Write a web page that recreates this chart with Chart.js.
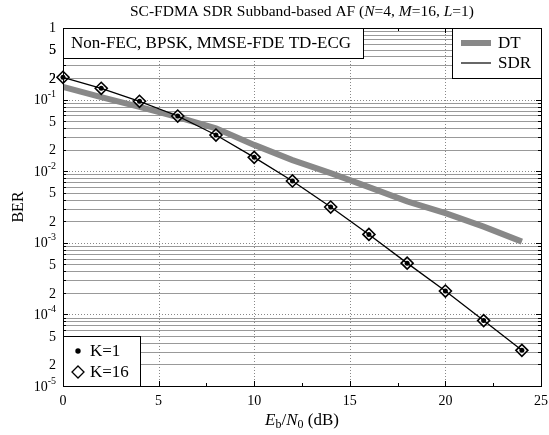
<!DOCTYPE html>
<html lang="en">
<head>
<meta charset="UTF-8">
<title>SC-FDMA SDR Subband-based AF</title>
<script src="https://cdn.jsdelivr.net/npm/chart.js"></script>
<style>
    html, body { margin: 0; padding: 0; background: #fff; }
    #wrap { width: 549px; height: 435px; }
</style>
</head>
<body>
<div id="wrap"><canvas id="berChart" width="549" height="435"></canvas></div>
<script>
    // data
    const snrDb = [0, 2, 4, 6, 8, 10, 12, 14, 16, 18, 20, 22, 24];
    const berDT = [0.15, 0.108, 0.079, 0.057, 0.0398, 0.0233, 0.0143, 0.0094, 0.006, 0.0038, 0.0026, 0.00168, 0.00104];
    const berSdrK1 = [0.205, 0.144, 0.0947, 0.059, 0.032, 0.0156, 0.0073, 0.00316, 0.00131, 0.00052, 0.000212, 0.000082, 0.0000315];
    const berSdrK16 = [0.205, 0.144, 0.0947, 0.059, 0.032, 0.0156, 0.0073, 0.00316, 0.00131, 0.00052, 0.000212, 0.000082, 0.0000315];

    const xTickValues = [0, 5, 10, 15, 20, 25];
    const xMinorTicks = [2.5, 7.5, 12.5, 17.5, 22.5];
    const yDecades = [-5, -4, -3, -2, -1, 0];
    const yLabelledMantissas = [2, 5];
    const seriesNames = ['DT', 'SDR'];
    const markerNames = ['K=1', 'K=16'];
    const noteText = 'Non-FEC, BPSK, MMSE-FDE TD-ECG';

    const SERIF = '"Liberation Serif", "Times New Roman", serif';
    const GRID = '#999';
    const DT_GRAY = '#888';
    const TXT = 17;     // legend / note text size
    const TICK = 14;    // tick label size

    function font(size, italic) {
        return (italic ? 'italic ' : '') + size + 'px ' + SERIF;
    }

    // draws a list of [text, italic, size, dy] pieces centred on cx
    function drawRich(ctx, parts, cx, y) {
        let total = 0;
        parts.forEach(p => { ctx.font = font(p[2], p[1]); total += ctx.measureText(p[0]).width; });
        let x = cx - total / 2;
        ctx.textAlign = 'left';
        ctx.textBaseline = 'middle';
        parts.forEach(p => {
            ctx.font = font(p[2], p[1]);
            ctx.fillText(p[0], x, y + (p[3] || 0));
            x += ctx.measureText(p[0]).width;
        });
    }

    function diamond(ctx, x, y, r) {
        ctx.beginPath();
        ctx.moveTo(x, y - r);
        ctx.lineTo(x + r, y);
        ctx.lineTo(x, y + r);
        ctx.lineTo(x - r, y);
        ctx.closePath();
    }

    const framePlugin = {
        id: 'frame',
        beforeDatasetsDraw(chart) {
            const ctx = chart.ctx;
            const a = chart.chartArea;
            const xs = chart.scales.x, ys = chart.scales.y;
            ctx.save();
            // horizontal grid: solid minor lines, dotted decade lines
            yDecades.forEach(e => {
                for (let m = 1; m <= 9; m++) {
                    const v = m * Math.pow(10, e);
                    if (v > 1.0000001) break;
                    const y = Math.round(ys.getPixelForValue(v)) + 0.5;
                    ctx.beginPath();
                    if (m === 1) {
                        ctx.setLineDash([1, 2]);
                        ctx.strokeStyle = '#888';
                    } else {
                        ctx.setLineDash([]);
                        ctx.strokeStyle = GRID;
                    }
                    ctx.lineWidth = 1;
                    ctx.moveTo(a.left, y);
                    ctx.lineTo(a.right, y);
                    ctx.stroke();
                }
            });
            // vertical dotted grid
            ctx.setLineDash([1, 2]);
            ctx.strokeStyle = '#888';
            xTickValues.forEach(v => {
                if (v === xs.min || v === xs.max) return;
                const x = Math.round(xs.getPixelForValue(v)) + 0.5;
                ctx.beginPath();
                ctx.moveTo(x, a.top);
                ctx.lineTo(x, a.bottom);
                ctx.stroke();
            });
            ctx.restore();
        },
        afterDatasetsDraw(chart) {
            const ctx = chart.ctx;
            const a = chart.chartArea;
            const xs = chart.scales.x, ys = chart.scales.y;
            ctx.save();
            ctx.setLineDash([]);
            ctx.strokeStyle = '#000';
            ctx.lineWidth = 1;

            // inward tick marks
            ctx.beginPath();
            yDecades.forEach(e => {
                for (let m = 1; m <= 9; m++) {
                    const v = m * Math.pow(10, e);
                    if (v > 1.0000001) break;
                    const y = Math.round(ys.getPixelForValue(v)) + 0.5;
                    const len = m === 1 ? 5 : 3;
                    ctx.moveTo(a.left, y); ctx.lineTo(a.left + len, y);
                    ctx.moveTo(a.right, y); ctx.lineTo(a.right - len, y);
                }
            });
            xTickValues.concat(xMinorTicks).forEach(v => {
                const x = Math.round(xs.getPixelForValue(v)) + 0.5;
                const len = xMinorTicks.includes(v) ? 3 : 5;
                ctx.moveTo(x, a.bottom); ctx.lineTo(x, a.bottom - len);
                ctx.moveTo(x, a.top); ctx.lineTo(x, a.top + len);
            });
            ctx.stroke();

            ctx.textAlign = 'left';
            ctx.textBaseline = 'middle';

            // note box (top left)
            ctx.fillStyle = '#fff';
            ctx.fillRect(a.left, a.top, 300, 30);
            ctx.strokeRect(a.left + 0.5, a.top + 0.5, 300, 30);
            ctx.fillStyle = '#000';
            ctx.font = font(TXT);
            ctx.fillText(noteText, a.left + 8, a.top + 16);

            // series legend (top right)
            const lx = a.right - 89, ly = a.top;
            ctx.fillStyle = '#fff';
            ctx.fillRect(lx, ly, 89, 50);
            ctx.strokeRect(lx + 0.5, ly + 0.5, 89, 50);
            ctx.strokeStyle = DT_GRAY;
            ctx.lineWidth = 6;
            ctx.beginPath(); ctx.moveTo(lx + 9, ly + 15); ctx.lineTo(lx + 39, ly + 15); ctx.stroke();
            ctx.strokeStyle = '#000';
            ctx.lineWidth = 1.2;
            ctx.beginPath(); ctx.moveTo(lx + 9, ly + 35); ctx.lineTo(lx + 39, ly + 35); ctx.stroke();
            ctx.fillStyle = '#000';
            ctx.font = font(TXT);
            ctx.fillText(seriesNames[0], lx + 46, ly + 16);
            ctx.fillText(seriesNames[1], lx + 46, ly + 36);

            // marker legend (bottom left)
            const bx = a.left, by = a.bottom - 50;
            ctx.strokeStyle = '#000';
            ctx.lineWidth = 1;
            ctx.fillStyle = '#fff';
            ctx.fillRect(bx, by, 77, 50);
            ctx.strokeRect(bx + 0.5, by + 0.5, 77, 50);
            ctx.fillStyle = '#000';
            ctx.beginPath(); ctx.arc(bx + 15, by + 15, 2.7, 0, Math.PI * 2); ctx.fill();
            ctx.lineWidth = 1.3;
            diamond(ctx, bx + 15, by + 36, 6);
            ctx.stroke();
            ctx.font = font(TXT);
            ctx.fillText(markerNames[0], bx + 27, by + 16);
            ctx.fillText(markerNames[1], bx + 27, by + 37);

            // plot frame
            ctx.lineWidth = 1;
            ctx.strokeRect(Math.round(a.left) + 0.5, Math.round(a.top) + 0.5, Math.round(a.right - a.left), Math.round(a.bottom - a.top));
            ctx.restore();
        },
        afterDraw(chart) {
            const ctx = chart.ctx;
            const a = chart.chartArea;
            const xs = chart.scales.x, ys = chart.scales.y;
            const rx = a.left - 7;
            ctx.save();
            ctx.fillStyle = '#000';
            ctx.textBaseline = 'middle';
            ctx.textAlign = 'right';

            // y tick labels: decades and the 2 / 5 mantissas
            yDecades.forEach(e => {
                const y = ys.getPixelForValue(Math.pow(10, e));
                if (e === 0) {
                    ctx.font = font(TICK);
                    ctx.fillText('1', rx, y);
                } else {
                    const sup = String(e);
                    ctx.font = font(10);
                    const sw = ctx.measureText(sup).width;
                    ctx.fillText(sup, rx, y - 5);
                    ctx.font = font(TICK);
                    ctx.fillText('10', rx - sw, y + 1);
                }
                if (e < 0) {
                    yLabelledMantissas.forEach(m => {
                        ctx.font = font(TICK);
                        ctx.fillText(String(m), rx, ys.getPixelForValue(m * Math.pow(10, e)) + 1);
                    });
                }
            });
            yLabelledMantissas.forEach(m => {
                ctx.font = font(TICK);
                ctx.fillText(String(m), rx, ys.getPixelForValue(m * 0.1) + 1);
            });

            // x tick labels
            ctx.font = font(TICK);
            ctx.textAlign = 'center';
            xTickValues.forEach(v => {
                ctx.fillText(String(v), xs.getPixelForValue(v), a.bottom + 15);
            });

            // axis titles
            drawRich(ctx, [['E', true, 17], ['b', false, 12, 4], ['/', false, 17], ['N', true, 17], ['0', false, 12, 4], [' (dB)', false, 17]],
                (a.left + a.right) / 2, a.bottom + 35);
            ctx.save();
            ctx.translate(19, (a.top + a.bottom) / 2);
            ctx.rotate(-Math.PI / 2);
            ctx.font = font(16);
            ctx.textAlign = 'center';
            ctx.fillText('BER', 0, 0);
            ctx.restore();

            // title
            drawRich(ctx, [['SC-FDMA SDR Subband-based AF (', false, 15.5], ['N', true, 15.5], ['=4, ', false, 15.5],
                ['M', true, 15.5], ['=16, ', false, 15.5], ['L', true, 15.5], ['=1)', false, 15.5]],
                (a.left + a.right) / 2, 12);
            ctx.restore();
        }
    };

    const ctx = document.getElementById('berChart').getContext('2d');
    const berChart = new Chart(ctx, {
        type: 'line',
        data: {
            labels: snrDb,
            datasets: [
                {
                    label: 'SDR K=1',
                    data: snrDb.map((x, i) => ({ x: x, y: berSdrK1[i] })),
                    borderColor: '#000',
                    borderWidth: 1.3,
                    pointStyle: 'circle',
                    pointRadius: 2.5,
                    pointBackgroundColor: '#000',
                    pointBorderColor: '#000',
                    pointBorderWidth: 0,
                    clip: false,
                    order: 1
                },
                {
                    label: 'SDR K=16',
                    data: snrDb.map((x, i) => ({ x: x, y: berSdrK16[i] })),
                    showLine: false,
                    pointStyle: 'rectRot',
                    pointRadius: 6,
                    pointBackgroundColor: 'rgba(255,255,255,0.6)',
                    pointBorderColor: '#000',
                    pointBorderWidth: 1.6,
                    clip: false,
                    order: 2
                },
                {
                    label: 'DT',
                    data: snrDb.map((x, i) => ({ x: x, y: berDT[i] })),
                    borderColor: DT_GRAY,
                    borderWidth: 6,
                    pointRadius: 0,
                    borderCapStyle: 'butt',
                    order: 3
                }
            ]
        },
        options: {
            responsive: false,
            animation: false,
            devicePixelRatio: 1,
            layout: { padding: { left: 63, right: 8, top: 28, bottom: 49 } },
            plugins: {
                legend: { display: false },
                tooltip: { enabled: false }
            },
            scales: {
                x: { type: 'linear', min: 0, max: 25, display: false },
                y: { type: 'logarithmic', min: 1e-5, max: 1, display: false }
            }
        },
        plugins: [framePlugin]
    });
</script>
</body>
</html>
